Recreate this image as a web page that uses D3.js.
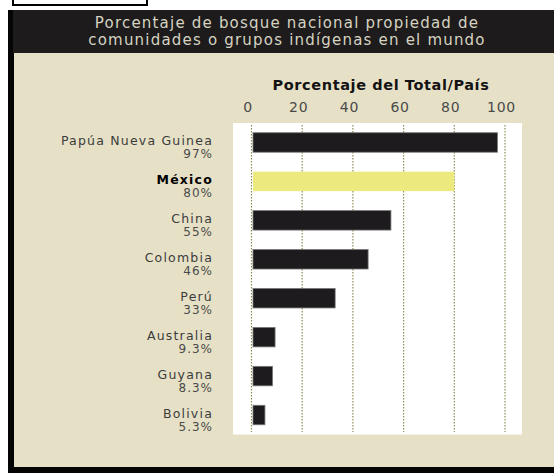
<!DOCTYPE html>
<html lang="es">
<head>
<meta charset="utf-8">
<title>Bosque nacional propiedad de comunidades</title>
<script src="https://d3js.org/d3.v7.min.js"></script>
<style>
  html, body { margin: 0; padding: 0; background: #fff; overflow: hidden; }
  svg { display: block; }
  text { font-family: "DejaVu Sans", sans-serif; }
</style>
</head>
<body>
<script>
    // datos
    var paises = ["Papúa Nueva Guinea", "México", "China", "Colombia", "Perú", "Australia", "Guyana", "Bolivia"];
    var valores = [97, 80, 55, 46, 33, 9.3, 8.3, 5.3];
    var etiquetas = ["97%", "80%", "55%", "46%", "33%", "9.3%", "8.3%", "5.3%"];
    var ticks = [0, 20, 40, 60, 80, 100];
    var destacado = "México";

    var w = 554, h = 473;

    var svg = d3.select("body").append("svg")
        .attr("width", w)
        .attr("height", h);

    // recuadro blanco arriba a la izquierda
    svg.append("rect")
        .attr("x", 13).attr("y", -5)
        .attr("width", 134).attr("height", 10)
        .attr("fill", "#fff")
        .attr("stroke", "#000")
        .attr("stroke-width", 2);

    // marco negro, cabecera y fondo beige
    svg.append("rect")
        .attr("x", 8).attr("y", 10)
        .attr("width", 600).attr("height", 470)
        .attr("fill", "#050505");
    svg.append("rect")
        .attr("x", 13).attr("y", 10)
        .attr("width", 600).attr("height", 43)
        .attr("fill", "#1d1b1c");
    svg.append("rect")
        .attr("x", 14).attr("y", 53)
        .attr("width", 600).attr("height", 414)
        .attr("fill", "#e6e1c6");

    var titulo = svg.append("g")
        .attr("fill", "#d6d3c1")
        .attr("text-anchor", "middle")
        .style("font-size", "15px")
        .style("letter-spacing", "1.2px");
    titulo.append("text").attr("x", 287).attr("y", 28)
        .text("Porcentaje de bosque nacional propiedad de");
    titulo.append("text").attr("x", 287).attr("y", 45)
        .text("comunidades o grupos indígenas en el mundo");

    var x = d3.scaleLinear()
        .domain([0, 100])
        .range([251.5, 505]);

    var y = d3.scaleBand()
        .domain(paises)
        .range([123, 434.5])
        .paddingInner(0.5)
        .paddingOuter(0.25);

    // area blanca del grafico
    svg.append("rect")
        .attr("x", 233)
        .attr("y", y.range()[0])
        .attr("width", 522 - 233)
        .attr("height", y.range()[1] - y.range()[0])
        .attr("fill", "#fff");

    svg.append("text")
        .attr("x", 381).attr("y", 90)
        .attr("text-anchor", "middle")
        .attr("fill", "#141213")
        .style("font-size", "14.5px")
        .style("font-weight", "bold")
        .style("letter-spacing", "0.6px")
        .text("Porcentaje del Total/País");

    var eje = svg.append("g")
        .attr("transform", "translate(0,112)")
        .call(d3.axisTop(x).tickValues(ticks).tickSize(0).tickPadding(0));
    eje.select(".domain").remove();
    eje.selectAll("text")
        .attr("dx", -4)
        .attr("fill", "#4a4a4a")
        .style("font-family", "DejaVu Sans, sans-serif")
        .style("font-size", "14px")
        .style("letter-spacing", "0.8px");

    // lineas punteadas
    svg.append("g").selectAll("line")
        .data(ticks)
        .enter()
        .append("line")
        .attr("x1", function(d) { return x(d); })
        .attr("x2", function(d) { return x(d); })
        .attr("y1", 125)
        .attr("y2", 432)
        .attr("stroke", "#8e8c55")
        .attr("stroke-width", 1.2)
        .attr("stroke-dasharray", "1.5,1.5");

    svg.append("g").selectAll("rect")
        .data(valores)
        .enter()
        .append("rect")
        .attr("x", x(0) + 1.5)
        .attr("y", function(d, i) { return y(paises[i]); })
        .attr("width", function(d) { return x(d) - x(0) - 1.5; })
        .attr("height", y.bandwidth())
        .attr("fill", function(d, i) { return paises[i] == destacado ? "#ece97f" : "#1d1b1d"; })
        .attr("stroke", function(d, i) { return paises[i] == destacado ? "none" : "#777"; })
        .attr("stroke-width", 0.8);

    var filas = svg.append("g").selectAll("g")
        .data(paises)
        .enter()
        .append("g")
        .attr("transform", function(d) { return "translate(213," + (y(d) + y.bandwidth() / 2) + ")"; });

    filas.append("text")
        .attr("y", 3)
        .attr("text-anchor", "end")
        .attr("fill", function(d) { return d == destacado ? "#000" : "#3c3c3c"; })
        .style("font-size", "12.5px")
        .style("letter-spacing", "1.2px")
        .style("font-weight", function(d) { return d == destacado ? "bold" : "normal"; })
        .text(function(d) { return d; });

    filas.append("text")
        .attr("y", 16)
        .attr("text-anchor", "end")
        .attr("fill", "#4a4a4a")
        .style("font-size", "12px")
        .style("letter-spacing", "1px")
        .text(function(d, i) { return etiquetas[i]; });
</script>
</body>
</html>
